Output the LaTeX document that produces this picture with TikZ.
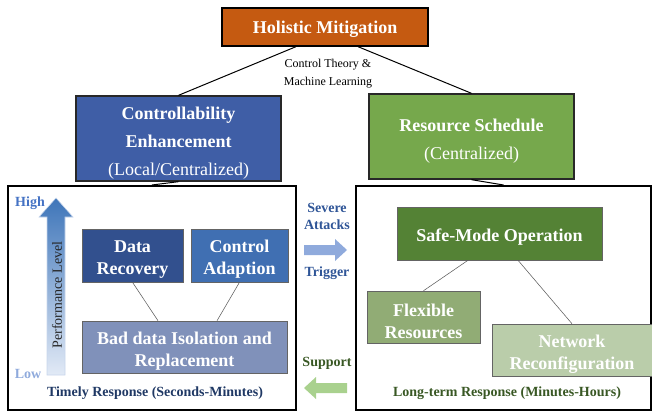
\documentclass[tikz,border=0pt]{standalone}
\usepackage{fontspec}
\setmainfont{Liberation Serif}
\usetikzlibrary{calc}

\definecolor{perftop}{RGB}{62,117,185}
\definecolor{perfbot}{RGB}{226,234,246}
\newcommand{\boxstrut}[1]{\rule{0pt}{#1}}

\tikzset{every picture/.style={line width=0.75pt}}
\tikzset{
  topbox/.style={draw={rgb, 255:red, 40; green, 40; blue, 40 }, line width=1pt, text=white, font=\bfseries\fontsize{13.5}{21}\selectfont, align=center, inner sep=0pt},
  subbox/.style={draw={rgb, 255:red, 100; green, 100; blue, 100 }, line width=0.4pt, text=white, font=\bfseries\fontsize{13.5}{16.5}\selectfont, align=center, inner sep=0pt},
  phasebox/.style={draw={rgb, 255:red, 0; green, 0; blue, 0 }, line width=1.5pt, inner sep=0pt},
  link/.style={draw={rgb, 255:red, 0; green, 0; blue, 0 }, line width=0.75pt},
  sublink/.style={draw={rgb, 255:red, 90; green, 90; blue, 90 }, line width=0.4pt},
  note/.style={font=\bfseries\fontsize{10.5}{12.75}\selectfont, align=center, inner sep=0pt}
}

\begin{document}
\begin{tikzpicture}[x=0.75pt,y=0.75pt,yscale=-1,xscale=1]
\useasboundingbox (0,0) rectangle (652,413);

%Shape: Rectangle
\draw (325,27) node (hm) [topbox, draw=black, fill={rgb, 255:red, 197; green, 90; blue, 17 }, minimum width=154.5pt, minimum height=28.5pt] {\boxstrut{12pt}Holistic Mitigation};
%Shape: Rectangle
\draw (178.5,138.5) node (ce) [topbox, fill={rgb, 255:red, 63; green, 94; blue, 166 }, minimum width=153.75pt, minimum height=63.75pt] {\boxstrut{16pt}Controllability\\Enhancement\\{\mdseries (Local/Centralized)}};
%Shape: Rectangle
\draw (471.5,136.5) node (rs) [topbox, fill={rgb, 255:red, 118; green, 168; blue, 76 }, minimum width=153.75pt, minimum height=63.75pt] {\boxstrut{16pt}Resource Schedule\\{\mdseries (Centralized)}};

%Shape: Rectangle
\draw (152,298) node (lf) [phasebox, minimum width=216pt, minimum height=168pt] {};
%Shape: Rectangle
\draw (503.5,298) node (rf) [phasebox, minimum width=221.25pt, minimum height=168pt] {};

%Shape: Rectangle
\draw (132.5,255.5) node (dr) [subbox, fill={rgb, 255:red, 50; green, 80; blue, 142 }, minimum width=75.75pt, minimum height=39.75pt] {\boxstrut{15.5pt}Data\\Recovery};
%Shape: Rectangle
\draw (239.5,255.5) node (ca) [subbox, fill={rgb, 255:red, 64; green, 111; blue, 178 }, minimum width=72.75pt, minimum height=39.75pt] {\boxstrut{15.5pt}Control\\Adaption};
%Shape: Rectangle
\draw (184.5,347) node (bd) [subbox, fill={rgb, 255:red, 128; green, 145; blue, 186 }, minimum width=153.75pt, minimum height=39pt] {\boxstrut{15.5pt}Bad data Isolation and\\Replacement};

%Shape: Rectangle
\draw (499.5,233.5) node (sm) [subbox, fill={rgb, 255:red, 84; green, 130; blue, 53 }, minimum width=153.75pt, minimum height=39.75pt] {\boxstrut{14.5pt}Safe-Mode Operation};
%Shape: Rectangle
\draw (423.5,317) node (fr) [subbox, fill={rgb, 255:red, 145; green, 172; blue, 117 }, minimum width=84.75pt, minimum height=39pt] {\boxstrut{15.5pt}Flexible\\Resources};
%Shape: Rectangle
\draw (572,350) node (nr) [subbox, fill={rgb, 255:red, 186; green, 205; blue, 170 }, minimum width=120pt, minimum height=39pt] {\boxstrut{15.5pt}Network\\Reconfiguration};

%Straight Lines
\draw [link] ($(hm.south)+(-29,0)$) -- (ce.north) ;
\draw [link] ($(hm.south)+(33,0)$) -- (rs.north) ;
\draw [link] (ce.south) -- (lf.north) ;
\draw [link] (rs.south) -- (rf.north) ;
%Straight Lines
\draw [sublink] (dr.south) -- ($(bd.north)+(-26.5,0)$) ;
\draw [sublink] (ca.south) -- ($(bd.north)+(32.5,0)$) ;
\draw [sublink] ($(sm.south)+(-31.5,0)$) -- (fr.north) ;
\draw [sublink] ($(sm.south)+(18.5,0)$) -- (nr.north) ;

%Shape: Up Arrow
\shade [top color=perftop, bottom color=perfbot, draw={rgb, 255:red, 200; green, 214; blue, 236 }, line width=0.4pt] (47,375) -- (47,217) -- (39,217) -- (56,198) -- (73,217) -- (65,217) -- (65,375) -- cycle ;
%Shape: Right Arrow
\fill [color={rgb, 255:red, 143; green, 170; blue, 220 }] (304,245) -- (335,245) -- (335,239) -- (347,250) -- (335,261) -- (335,255) -- (304,255) -- cycle ;
%Shape: Left Arrow
\fill [color={rgb, 255:red, 169; green, 209; blue, 142 }] (347,383) -- (316,383) -- (316,377) -- (304,388) -- (316,399) -- (316,393) -- (347,393) -- cycle ;

% Text Node
\draw (328,74) node (ctml) [inner sep=0pt, align=center, font=\fontsize{9}{13.5}\selectfont] {Control Theory \&\\Machine Learning};
% Text Node
\draw (57,295) node (perf) [inner sep=0pt, rotate=90, text={rgb, 255:red, 38; green, 38; blue, 38 }, font=\fontsize{10.5}{12}\selectfont] {Performance Level};
% Text Node
\draw (30,203) node (high) [note, text={rgb, 255:red, 68; green, 114; blue, 196 }] {High};
% Text Node
\draw (28,374) node (low) [note, text={rgb, 255:red, 143; green, 170; blue, 220 }] {Low};
% Text Node
\draw (155,393) node (timely) [note, text={rgb, 255:red, 31; green, 56; blue, 100 }] {Timely Response (Seconds-Minutes)};
% Text Node
\draw (507,393) node (longterm) [note, text={rgb, 255:red, 56; green, 87; blue, 35 }] {Long-term Response (Minutes-Hours)};
% Text Node
\draw (327,216) node (severe) [note, text={rgb, 255:red, 47; green, 85; blue, 151 }] {Severe\\Attacks};
% Text Node
\draw (327,273) node (trigger) [note, text={rgb, 255:red, 47; green, 85; blue, 151 }] {Trigger};
% Text Node
\draw (327,363) node (support) [note, text={rgb, 255:red, 56; green, 87; blue, 35 }] {Support};

\end{tikzpicture}
\end{document}
